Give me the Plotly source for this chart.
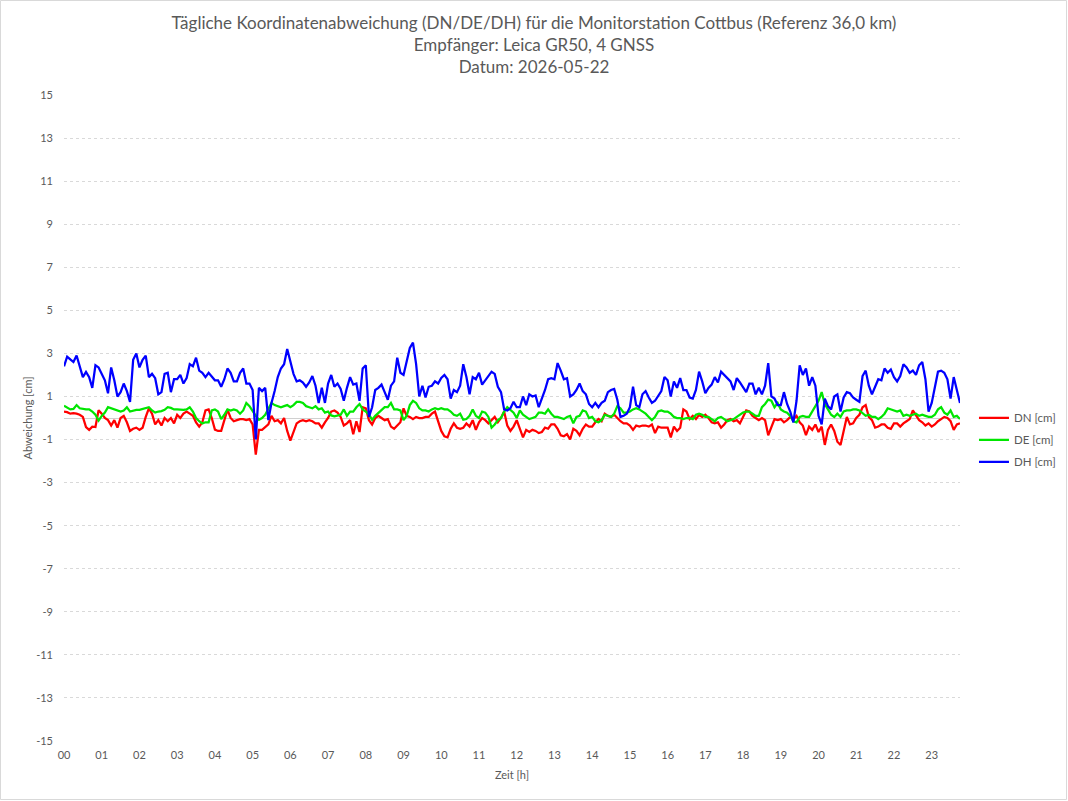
import plotly.graph_objects as go

# Hour tick labels
hour_labels = [f"{h:02d}" for h in range(24)]
y_ticks = list(range(-15, 16, 2))
y_labels = [str(v) for v in y_ticks]

# 5-minute samples (00:00 .. 23:45), one row per hour
DN = [
    0.3, 0.27, 0.2, 0.22, 0.2, 0.15, 0.05, -0.42, -0.55, -0.4, -0.42, 0.36,
    0.2, 0.0, -0.1, -0.35, -0.1, -0.45, 0.0, 0.1, -0.2, -0.6, -0.5, -0.45,
    -0.55, -0.45, 0.05, 0.45, 0.2, -0.3, -0.1, -0.35, 0.0, -0.15, 0.0, -0.25,
    0.15, 0.0, 0.2, 0.3, 0.2, 0.1, -0.2, -0.4, -0.2, 0.35, 0.4, 0.0,
    -0.54, -0.6, -0.6, -0.1, 0.39, 0.0, -0.15, -0.1, -0.05, -0.05, -0.1, -0.05,
    -0.3, -1.7, -0.55, -0.55, -0.4, -0.3, 0.1, -0.15, -0.1, -0.25, 0.0, -0.6,
    -1.05, -0.6, -0.25, -0.15, -0.1, -0.15, -0.1, -0.15, -0.25, -0.25, -0.45, -0.2,
    0.0, 0.3, 0.35, 0.25, 0.05, -0.35, -0.25, -0.1, -0.75, -0.15, -0.65, 0.5,
    0.45, -0.1, -0.3, 0.0, 0.1, 0.0, -0.1, -0.05, -0.4, -0.5, -0.35, -0.2,
    0.45, 0.1, 0.05, -0.05, 0.05, 0.0, 0.0, 0.05, 0.05, 0.2, 0.3, -0.2,
    -0.6, -0.85, -0.9, -0.5, -0.25, -0.45, -0.5, -0.45, -0.25, -0.4, -0.1, -0.55,
    -0.2, 0.0, -0.1, -0.25, -0.1, 0.05, -0.2, 0.0, 0.3, -0.35, -0.6, -0.4,
    -0.1, -0.55, -0.9, -0.55, -0.65, -0.55, -0.6, -0.7, -0.65, -0.45, -0.5, -0.3,
    -0.3, -0.5, -0.8, -0.85, -0.75, -1.0, -0.5, -0.6, -0.8, -0.5, -0.3, -0.4,
    -0.4, -0.2, -0.05, -0.15, 0.2, 0.1, 0.05, 0.15, 0.0, -0.15, -0.25, -0.25,
    -0.35, -0.55, -0.35, -0.4, -0.35, -0.35, -0.4, -0.3, -0.7, -0.4, -0.45, -0.45,
    -0.45, -0.9, -0.4, -0.6, -0.45, 0.4, 0.3, -0.05, 0.1, -0.05, 0.15, 0.05,
    0.15, 0.0, -0.2, -0.25, -0.2, -0.45, -0.3, -0.1, -0.05, -0.15, -0.1, -0.25,
    0.05, 0.35, 0.3, 0.1, 0.0, -0.1, 0.0, -0.1, -0.8, -0.4, -0.05, -0.1,
    -0.05, -0.2, -0.1, 0.05, -0.05, 0.1, -0.2, -0.35, -0.8, -0.4, -0.55, -0.3,
    -0.65, -0.4, -1.25, -0.55, -0.3, -0.6, -1.1, -1.25, -0.55, 0.05, -0.3, -0.25,
    0.0, 0.15, 0.5, 0.6, 0.05, -0.1, -0.45, -0.4, -0.3, -0.3, -0.45, -0.5,
    -0.25, -0.25, -0.4, -0.25, -0.15, -0.05, 0.35, 0.1, -0.1, -0.2, -0.35, -0.25,
    -0.4, -0.3, -0.15, -0.05, 0.05, 0.0, -0.15, -0.55, -0.3, -0.25,
]

DE = [
    0.57, 0.47, 0.4, 0.42, 0.6, 0.45, 0.42, 0.4, 0.4, 0.3, 0.15, -0.12,
    0.1, 0.25, 0.5, 0.45, 0.38, 0.35, 0.3, 0.35, 0.5, 0.3, 0.35, 0.38,
    0.38, 0.42, 0.45, 0.5, 0.35, 0.25, 0.3, 0.32, 0.38, 0.5, 0.47, 0.4,
    0.4, 0.38, 0.38, 0.4, 0.5, 0.3, 0.0, -0.15, -0.25, -0.2, -0.2, 0.35,
    0.4, 0.3, -0.05, 0.15, 0.4, 0.35, 0.4, 0.35, 0.2, 0.35, 0.7, 0.55,
    0.3, 0.1, -0.08, 0.0, 0.15, 0.45, 0.7, 0.6, 0.55, 0.5, 0.55, 0.6,
    0.5, 0.6, 0.75, 0.75, 0.7, 0.55, 0.5, 0.45, 0.55, 0.4, 0.45, 0.25,
    0.3, 0.12, 0.08, 0.1, 0.15, 0.4, 0.1, 0.3, 0.3, 0.5, 0.65, 0.4,
    0.3, 0.15, -0.08, 0.1, 0.25, 0.35, 0.5, 0.5, 0.7, 0.4, 0.4, 0.35,
    -0.1, 0.1, 0.6, 0.8, 0.7, 0.45, 0.35, 0.35, 0.3, 0.4, 0.45, 0.4,
    0.45, 0.4, 0.4, 0.3, 0.15, 0.1, 0.2, -0.08, -0.05, 0.1, 0.4, 0.1,
    0.0, 0.3, 0.25, 0.05, -0.45, -0.3, -0.1, 0.0, 0.3, 0.5, 0.35, 0.25,
    0.0, 0.35, 0.15, 0.05, -0.05, 0.0, 0.05, 0.25, 0.25, 0.2, 0.4, 0.2,
    0.05, 0.05, 0.0, -0.05, 0.05, 0.1, -0.25, 0.05, 0.1, 0.35, 0.3, 0.0,
    0.05, -0.15, -0.2, -0.1, 0.15, 0.1, 0.05, 0.2, 0.55, 0.45, 0.25, 0.25,
    0.3, 0.4, 0.45, 0.4, 0.3, 0.2, 0.05, -0.1, 0.05, 0.3, 0.35, 0.3,
    0.3, 0.2, 0.05, 0.0, 0.0, -0.05, 0.0, 0.0, -0.05, 0.15, 0.2, 0.15,
    0.05, 0.05, -0.05, -0.15, 0.0, 0.05, -0.05, -0.15, -0.1, -0.05, 0.05, 0.15,
    0.25, 0.3, 0.3, 0.2, 0.1, 0.1, 0.5, 0.65, 0.85, 0.8, 0.5, 0.7,
    0.4, 0.3, 0.25, 0.1, -0.15, -0.2, 0.05, 0.1, 0.05, 0.05, 0.3, 0.6,
    0.8, 1.2, 0.65, 0.4, 0.15, 0.05, 0.2, 0.05, 0.3, 0.35, 0.35, 0.4,
    0.4, 0.35, 0.2, 0.1, 0.15, 0.05, 0.05, -0.05, 0.05, 0.2, 0.45, 0.4,
    0.35, 0.3, 0.35, 0.1, 0.15, 0.1, 0.15, 0.2, 0.1, 0.15, 0.1, 0.05,
    0.05, 0.15, 0.4, 0.5, 0.25, 0.15, 0.35, 0.05, 0.1, -0.05,
]

DH = [
    2.4, 2.85, 2.72, 2.6, 2.9, 2.4, 1.9, 2.14, 1.9, 1.4, 2.45, 2.35,
    2.05, 1.75, 1.15, 2.35, 1.75, 1.0, 1.2, 1.6, 1.25, 0.75, 2.7, 3.0,
    2.35, 2.7, 2.9, 1.9, 2.05, 1.85, 1.1, 1.2, 2.05, 2.1, 1.2, 1.8,
    1.8, 2.0, 1.6, 1.85, 2.5, 2.4, 2.8, 2.2, 2.1, 1.9, 2.1, 1.9,
    1.75, 1.75, 1.45, 1.8, 2.3, 2.1, 1.7, 1.7, 2.1, 2.3, 1.6, 1.6,
    1.3, -1.0, 1.4, 1.25, 1.4, -0.1, 0.7, 1.25, 1.9, 2.3, 2.5, 3.2,
    2.55, 2.05, 1.7, 1.75, 1.65, 1.45, 1.65, 1.95, 1.5, 0.7, 1.4, 0.7,
    1.6, 2.0, 1.45, 1.6, 1.35, 0.8, 1.4, 1.9, 1.55, 1.6, 0.8, 2.3,
    2.45, 0.05, 0.5, 1.3, 1.4, 1.55, 1.2, 0.85, 1.5, 1.7, 2.8, 2.1,
    2.0, 2.7, 3.25, 3.5, 2.5, 1.0, 1.5, 0.95, 1.45, 1.5, 1.7, 1.6,
    1.86, 2.0, 1.8, 0.9, 1.3, 1.2, 1.5, 2.5, 1.9, 1.1, 1.9, 1.8,
    2.1, 1.55, 1.75, 1.95, 2.15, 2.05, 1.45, 1.2, 0.4, 0.35, 0.45, 0.75,
    0.5, 0.5, 1.0, 0.6, 1.1, 1.0, 1.05, 0.5, 0.9, 1.3, 1.8, 1.85,
    1.8, 2.55, 2.2, 1.8, 1.85, 1.0, 1.1, 1.3, 1.6, 1.25, 1.1, 0.65,
    0.5, 0.7, 0.5, 0.7, 0.8, 1.2, 1.3, 1.35, 0.85, 0.05, 0.1, 0.2,
    0.5, 1.45, 0.6, 0.5, 1.1, 1.25, 0.95, 0.7, 0.8, 1.0, 1.25, 1.9,
    1.75, 1.0, 1.7, 1.4, 1.85, 1.3, 1.3, 0.95, 0.9, 1.3, 2.15, 1.7,
    1.15, 1.4, 1.55, 1.9, 1.65, 2.15, 2.0, 1.9, 1.7, 1.3, 1.85, 1.65,
    1.4, 1.2, 1.6, 1.6, 1.1, 1.4, 1.1, 1.5, 2.55, 1.0, 0.9, 0.6,
    0.6, 1.2, 0.65, 0.3, -0.2, 0.8, 2.45, 2.0, 2.3, 1.5, 1.9, 1.5,
    0.1, -0.3, 0.9, 0.55, 0.4, 1.0, 1.1, 0.3, 0.95, 1.2, 1.15, 0.95,
    0.85, 0.75, 1.95, 2.2, 1.5, 1.1, 1.45, 1.8, 1.75, 2.3, 2.1, 2.25,
    1.9, 1.7, 1.95, 2.5, 2.35, 2.1, 2.2, 2.0, 2.45, 2.6, 1.8, 0.3,
    0.7, 1.5, 2.15, 2.2, 2.1, 1.8, 0.9, 1.9, 1.3, 0.7,
]

x_hours = [i / 12 for i in range(len(DN))]

TXT = "#595959"
FONT = "Lato"

fig = go.Figure()
fig.add_trace(go.Scatter(x=x_hours, y=DN, mode="lines", name="DN [cm]", legendgroup="dn",
                         line=dict(color="#ff0000", width=2.25)))
fig.add_trace(go.Scatter(x=x_hours, y=DE, mode="lines", name="DE [cm]", legendgroup="de",
                         line=dict(color="#00e600", width=2.25)))
fig.add_trace(go.Scatter(x=x_hours, y=DH, mode="lines", name="DH [cm]", legendgroup="dh",
                         line=dict(color="#0000ff", width=2.25)))

fig.update_layout(
    width=1068, height=801,
    margin=dict(l=64, r=108, t=95, b=60, autoexpand=False),
    paper_bgcolor="white", plot_bgcolor="white",
    font=dict(family=FONT, color=TXT, size=11),
    title=dict(
        text="Tägliche Koordinatenabweichung (DN/DE/DH) für die Monitorstation Cottbus (Referenz 36,0 km)"
             "<br>Empfänger: Leica GR50, 4 GNSS<br>Datum: 2026-05-22",
        x=0.5, xref="container", xanchor="center",
        y=1 - 29 / 801, yref="container", yanchor="top",
        font=dict(family=FONT, size=17, color=TXT),
    ),
    showlegend=True,
    legend=dict(
        x=1.0156, xanchor="left", y=0.466, yanchor="middle",
        font=dict(family=FONT, size=11.5, color=TXT),
        bgcolor="rgba(0,0,0,0)", tracegroupgap=3,
    ),
    shapes=[dict(type="rect", xref="paper", yref="paper",
                 x0=-63.5 / 896, x1=1 + 106.5 / 896,
                 y0=-58.5 / 646, y1=1 + 94.5 / 646,
                 line=dict(color="#d9d9d9", width=1))],
)

fig.update_xaxes(
    range=[0, (len(DN) - 1) / 12],
    tickmode="array", tickvals=list(range(24)), ticktext=hour_labels,
    showgrid=False, zeroline=False, showline=False, ticks="",
    ticklabelstandoff=6,
    tickfont=dict(family=FONT, size=11, color=TXT),
    title=dict(text="Zeit [h]", font=dict(family=FONT, size=11, color=TXT), standoff=11),
)
fig.update_yaxes(
    range=[-15, 15],
    tickmode="array", tickvals=y_ticks, ticktext=y_labels,
    showgrid=True, gridcolor="#d9d9d9", gridwidth=1, griddash="dot",
    zeroline=True, zerolinecolor="#d0d0d0", zerolinewidth=1,
    showline=False, ticks="", ticklabelstandoff=10,
    tickfont=dict(family=FONT, size=11, color=TXT),
    title=dict(text="Abweichung [cm]", font=dict(family=FONT, size=11, color=TXT), standoff=1),
)

fig.write_html("out.html")
